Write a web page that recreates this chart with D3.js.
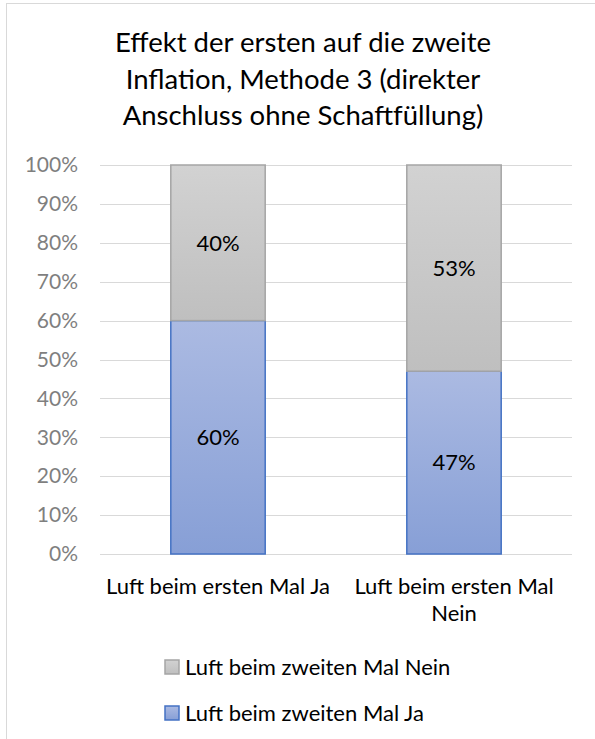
<!DOCTYPE html>
<html><head><meta charset="utf-8">
<script src="https://cdn.jsdelivr.net/npm/d3@7"></script>
<style>body{margin:0;background:#fff}svg{display:block}text{font-family:Lato,"Open Sans",sans-serif}</style>
</head><body>
<svg id="c" width="595" height="739"></svg>
<script>
const titleLines = ["Effekt der ersten auf die zweite", "Inflation, Methode 3 (direkter", "Anschluss ohne Schaftfüllung)"];
const categories = [["Luft beim ersten Mal Ja"], ["Luft beim ersten Mal", "Nein"]];
const seriesNames = ["Luft beim zweiten Mal Ja", "Luft beim zweiten Mal Nein"];
const valuesJa = [0.60, 0.47];
const valuesNein = [0.40, 0.53];
const yTicks = [0, 0.1, 0.2, 0.3, 0.4, 0.5, 0.6, 0.7, 0.8, 0.9, 1.0];

const svg = d3.select("#c");
const defs = svg.append("defs");
function grad(id, c1, c2) {
  const g = defs.append("linearGradient").attr("id", id).attr("x1", 0).attr("y1", 0).attr("x2", 0).attr("y2", 1);
  g.append("stop").attr("offset", "0%").attr("stop-color", c1);
  g.append("stop").attr("offset", "100%").attr("stop-color", c2);
}
grad("gBlue", "#abbae2", "#879fd6");
grad("gGray", "#d2d2d2", "#bfbfbf");

// outer border
svg.append("rect").attr("x", 6.5).attr("y", 3.5).attr("width", 600).attr("height", 760)
  .attr("fill", "none").attr("stroke", "#d9d9d9").attr("stroke-width", 1);

// title
svg.append("g").selectAll("text").data(titleLines).join("text")
  .attr("x", 303).attr("y", (d, i) => 52 + i * 36.5)
  .attr("text-anchor", "middle").attr("font-size", 27.5).attr("fill", "#000").text(d => d);

const x = d3.scaleBand().domain(d3.range(categories.length)).range([100, 572]).paddingInner(0).paddingOuter(0);
const y = d3.scaleLinear().domain([0, 1]).range([554, 165]);
const bw = x.bandwidth() * 0.4;

// gridlines
svg.append("g").selectAll("line").data(yTicks).join("line")
  .attr("x1", 100).attr("x2", 572).attr("y1", d => Math.round(y(d)) + 0.5).attr("y2", d => Math.round(y(d)) + 0.5)
  .attr("stroke", "#d9d9d9").attr("stroke-width", 1);

// y axis labels
const yAxis = d3.axisLeft(y).tickValues(yTicks).tickFormat(d3.format(".0%")).tickSize(0).tickPadding(0);
const ya = svg.append("g").attr("transform", "translate(78,0)").call(yAxis);
ya.select(".domain").remove();
ya.selectAll("text").attr("font-size", 21).attr("fill", "#7f7f7f").attr("font-family", "Lato,'Open Sans',sans-serif");

// bars
const stacks = [
  { name: seriesNames[0], vals: valuesJa, base: valuesJa.map(() => 0), fill: "url(#gBlue)", stroke: "#4472c4" },
  { name: seriesNames[1], vals: valuesNein, base: valuesJa, fill: "url(#gGray)", stroke: "#a5a5a5" }
];
stacks.forEach(s => {
  const g = svg.append("g");
  s.vals.forEach((v, i) => {
    const x0 = x(i) + (x.bandwidth() - bw) / 2;
    const y1 = y(s.base[i] + v), y0 = y(s.base[i]);
    g.append("rect").attr("x", x0).attr("y", y1).attr("width", bw).attr("height", y0 - y1)
      .attr("fill", s.fill).attr("stroke", s.stroke).attr("stroke-width", 1.5);
    g.append("text").attr("x", x0 + bw / 2).attr("y", (y0 + y1) / 2).attr("dy", "0.35em")
      .attr("text-anchor", "middle").attr("font-size", 22).attr("fill", "#000")
      .text(d3.format(".0%")(v));
  });
});

// category labels
categories.forEach((lines, i) => {
  svg.append("text").attr("x", x(i) + x.bandwidth() / 2).attr("y", 594)
    .attr("text-anchor", "middle").attr("font-size", 22).attr("fill", "#000")
    .selectAll("tspan").data(lines).join("tspan")
    .attr("x", x(i) + x.bandwidth() / 2).attr("dy", (d, j) => j === 0 ? 0 : 27).text(d => d);
});

// legend
const leg = [
  { name: seriesNames[1], fill: "url(#gGray)", stroke: "#a5a5a5" },
  { name: seriesNames[0], fill: "url(#gBlue)", stroke: "#4472c4" }
];
leg.forEach((d, i) => {
  const cy = 667 + i * 46;
  svg.append("rect").attr("x", 165).attr("y", cy - 7).attr("width", 14).attr("height", 14)
    .attr("fill", d.fill).attr("stroke", d.stroke).attr("stroke-width", 1.5);
  svg.append("text").attr("x", 185).attr("y", cy).attr("dy", "0.35em")
    .attr("font-size", 22).attr("fill", "#000").text(d.name);
});
</script>
</body></html>
